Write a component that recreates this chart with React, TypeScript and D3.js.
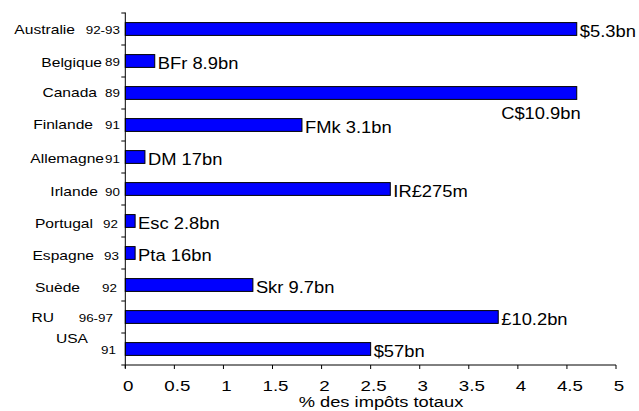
import React from "react";
import * as d3 from "d3";

const countries = ["Australie", "Belgique", "Canada", "Finlande", "Allemagne", "Irlande", "Portugal", "Espagne", "Suède", "RU", "USA"];
const years = ["92-93", "89", "89", "91", "91", "90", "92", "93", "92", "96-97", "91"];
const values = [4.6, 0.3, 4.6, 1.8, 0.2, 2.7, 0.1, 0.1, 1.3, 3.8, 2.5];
const valueLabels = ["$5.3bn", "BFr 8.9bn", "C$10.9bn", "FMk 3.1bn", "DM 17bn", "IR£275m", "Esc 2.8bn", "Pta 16bn", "Skr 9.7bn", "£10.2bn", "$57bn"];
const xTicks = [0, 0.5, 1, 1.5, 2, 2.5, 3, 3.5, 4, 4.5, 5];
const xTitle = "% des impôts totaux";

// layout tweaks for category labels (separate from data)
const nameEndX = [75, 102, 97, 93, 104, 98, 93, 94, 80, 54, 88];
const nameDy = [4.5, 5.5, 4, 4, 6, 7, 7, 7, 7, 5, -6];
const yearEndX = [120, 120, 120, 120, 120, 120, 118, 119, 117, 113, 116];
const yearDy = [4.5, 4.5, 4, 4, 6, 7, 7, 7, 7, 5, 4.5];

const W = 639, H = 411;
const FONT = "'Liberation Sans', Arial, sans-serif";

function SText({ x, y, sx = 1, size, anchor = "start", children }: any) {
  return (
    <text
      transform={`translate(${x},${y}) scale(${sx},1)`}
      fontSize={size}
      fontFamily={FONT}
      textAnchor={anchor}
      fill="#000"
    >
      {children}
    </text>
  );
}

export default function App() {
  const x = d3.scaleLinear().domain([0, 5]).range([125.3, 616]);
  const y = d3.scaleBand<string>().domain(countries).range([13, 365]).paddingInner(0.6).paddingOuter(0.3);
  const step = y.step();
  const bounds = d3.range(countries.length + 1).map((i) => 13 + i * step);

  return (
    <svg width={W} height={H} style={{ position: "absolute", left: 0, top: 0, background: "#fff" }}>
      {/* bars */}
      {countries.map((c, i) => (
        <rect
          key={c}
          x={x(0)}
          y={y(c)!}
          width={x(values[i]) - x(0)}
          height={y.bandwidth()}
          fill="#0000FF"
          stroke="#000"
          strokeWidth={1}
        />
      ))}
      {/* y axis */}
      <line x1={x(0)} x2={x(0)} y1={12.5} y2={368} stroke="#000" strokeWidth={1} />
      {bounds.map((b, i) => (
        <line key={i} x1={x(0) - 4} x2={x(0)} y1={b} y2={b} stroke="#000" strokeWidth={1} />
      ))}
      {/* x axis */}
      <line x1={x(0)} x2={x(5)} y1={365} y2={365} stroke="#000" strokeWidth={1} />
      {xTicks.map((t) => (
        <g key={t}>
          <line x1={x(t)} x2={x(t)} y1={365} y2={369} stroke="#000" strokeWidth={1} />
          <SText x={x(t) + 3} y={391} sx={1.25} size={15} anchor="middle">
            {String(t)}
          </SText>
        </g>
      ))}
      <SText x={381} y={406.5} sx={1.22} size={15} anchor="middle">
        {xTitle}
      </SText>
      {/* category labels */}
      {countries.map((c, i) => {
        const cy = y(c)! + y.bandwidth() / 2;
        return (
          <g key={c}>
            <SText x={nameEndX[i]} y={cy + nameDy[i]} sx={1.2} size={13} anchor="end">
              {c}
            </SText>
            <SText x={yearEndX[i]} y={cy + yearDy[i]} sx={1.28} size={10.5} anchor="end">
              {years[i]}
            </SText>
          </g>
        );
      })}
      {/* value labels */}
      {countries.map((c, i) => {
        const cy = y(c)! + y.bandwidth() / 2;
        const below = i === 2;
        return (
          <SText
            key={c}
            x={below ? x(values[i]) + 4 : x(values[i]) + 3}
            y={below ? cy + 25.5 : cy + 7.5}
            sx={1.08}
            size={17}
            anchor={below ? "end" : "start"}
          >
            {valueLabels[i]}
          </SText>
        );
      })}
    </svg>
  );
}
